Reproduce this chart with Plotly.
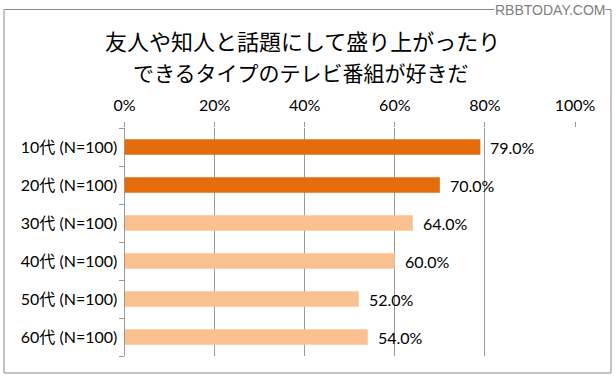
import plotly.graph_objects as go

categories = ["10代 (N=100)", "20代 (N=100)", "30代 (N=100)", "40代 (N=100)", "50代 (N=100)", "60代 (N=100)"]
values = [79.0, 70.0, 64.0, 60.0, 52.0, 54.0]
bar_colors = ["#E46C0A", "#E46C0A", "#FAC090", "#FAC090", "#FAC090", "#FAC090"]
x_ticks = [0, 20, 40, 60, 80, 100]
title_lines = ["友人や知人と話題にして盛り上がったり", "できるタイプのテレビ番組が好きだ"]

W, H = 616, 383
def px(x): return x / W
def py(y): return (H - y) / H

font_latin = "Lato, 'Noto Sans CJK JP', sans-serif"
font_jp = "'Noto Sans CJK JP', sans-serif"

fig = go.Figure()
fig.add_trace(go.Bar(
    y=categories, x=values, orientation="h",
    marker=dict(color=bar_colors, line=dict(width=0)),
    hoverinfo="skip",
))

for c, v in zip(categories, values):
    fig.add_annotation(x=v, y=c, xref="x", yref="y", text=f"{v:.1f}%",
                       showarrow=False, xanchor="left", xshift=8,
                       font=dict(family=font_latin, size=16, color="#000000"))

fig.update_layout(
    width=W, height=H,
    margin=dict(l=0, r=0, t=0, b=0),
    paper_bgcolor="white", plot_bgcolor="white",
    showlegend=False,
    bargap=0.59,
    xaxis=dict(
        domain=[px(124.5), px(575)],
        range=[0, 100], side="top", automargin=False,
        tickvals=x_ticks, ticktext=[f"{t}%" for t in x_ticks],
        showgrid=True, gridcolor="#9a9a9a", gridwidth=1,
        showline=False, zeroline=False,
        ticks="outside", ticklen=5, tickcolor="#9a9a9a",
        tickfont=dict(family=font_latin, size=16, color="#000000"),
        ticklabelstandoff=5,
    ),
    yaxis=dict(
        domain=[py(356), py(128)], automargin=False,
        categoryorder="array", categoryarray=categories[::-1],
        showline=True, linecolor="#9a9a9a", linewidth=1,
        ticks="outside", ticklen=5, tickcolor="#9a9a9a", tickson="boundaries",
        showgrid=False,
        tickfont=dict(family=font_latin, size=16, color="#000000"),
        ticklabelstandoff=3,
    ),
    shapes=[dict(type="rect", xref="paper", yref="paper",
                 x0=px(4), x1=px(611), y0=py(373), y1=py(9.5),
                 line=dict(color="#8a8a8a", width=1), fillcolor="rgba(0,0,0,0)", layer="below")],
)

fig.add_annotation(x=px(302), y=py(40), xref="paper", yref="paper", text=title_lines[0],
                   showarrow=False, xanchor="center", yanchor="middle",
                   font=dict(family=font_jp, size=22, color="#000000"))
fig.add_annotation(x=px(301), y=py(72), xref="paper", yref="paper", text=title_lines[1],
                   showarrow=False, xanchor="center", yanchor="middle",
                   font=dict(family=font_jp, size=21, color="#000000"))
fig.add_annotation(x=px(606), y=py(10), xref="paper", yref="paper", text="RBBTODAY.COM",
                   showarrow=False, xanchor="right", yanchor="middle", bgcolor="white",
                   borderpad=0,
                   font=dict(family="'Liberation Sans', sans-serif", size=14, color="#808080"))

fig.write_html("out.html", config={"displayModeBar": False},
               post_script="document.body.style.margin='0';document.body.style.overflow='hidden';")
